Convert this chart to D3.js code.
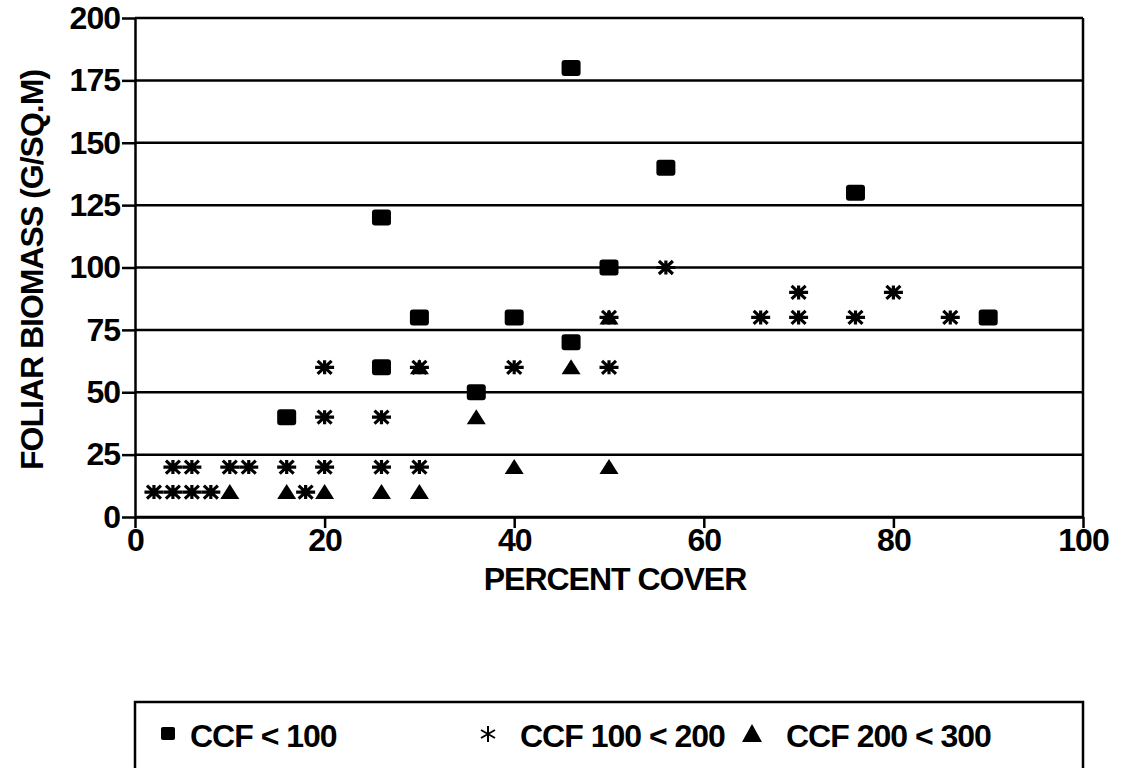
<!DOCTYPE html>
<html>
<head>
<meta charset="utf-8">
<script src="https://cdn.jsdelivr.net/npm/d3@7"></script>
<style>
  body { margin: 0; background: #fff; }
  svg { display: block; }
  text { font-family: "Liberation Sans", Arial, Helvetica, sans-serif; font-weight: bold; fill: #000; }
</style>
</head>
<body>
<div id="chart"></div>
<script>
// series names, as in the legend
var seriesNames = ["CCF < 100", "CCF 100 < 200", "CCF 200 < 300"];

// CCF < 100 (squares)
var lowCover   = [16, 26, 26, 30, 36, 40, 46, 46, 50, 56, 76, 90];
var lowBiomass = [40, 120, 60, 80, 50, 80, 180, 70, 100, 140, 130, 80];

// CCF 100 < 200 (asterisks)
var midCover   = [2, 4, 6, 8, 18,
                  4, 6, 10, 12, 16, 20, 26, 30,
                  20, 26,
                  20, 30, 40, 50,
                  50, 66, 70, 76, 86,
                  70, 80,
                  56];
var midBiomass = [10, 10, 10, 10, 10,
                  20, 20, 20, 20, 20, 20, 20, 20,
                  40, 40,
                  60, 60, 60, 60,
                  80, 80, 80, 80, 80,
                  90, 90,
                  100];

// CCF 200 < 300 (triangles)
var highCover   = [10, 16, 20, 26, 30, 40, 50, 36, 46, 30, 50];
var highBiomass = [10, 10, 10, 10, 10, 20, 20, 40, 60, 60, 80];

var xTicks = [0, 20, 40, 60, 80, 100];
var yTicks = [0, 25, 50, 75, 100, 125, 150, 175, 200];

var xTitle = "PERCENT COVER";
var yTitle = "FOLIAR BIOMASS (G/SQ.M)";

var width = 1122, height = 768;
var plot = { left: 135, right: 1083, top: 18, bottom: 517 };
var fontSize = "32px";

var svg = d3.select("#chart")
    .append("svg")
    .attr("width", width)
    .attr("height", height);

var x = d3.scaleLinear().domain([0, 100]).range([plot.left, plot.right]);
var y = d3.scaleLinear().domain([0, 200]).range([plot.bottom, plot.top]);

// horizontal grid lines (the 200 one doubles as the top of the frame)
svg.append("g")
    .selectAll("line")
    .data(yTicks)
    .enter()
    .append("line")
    .attr("x1", plot.left)
    .attr("x2", plot.right)
    .attr("y1", function(d) { return y(d); })
    .attr("y2", function(d) { return y(d); })
    .attr("stroke", "#000")
    .attr("stroke-width", 2.5);

// right edge of frame
svg.append("line")
    .attr("x1", plot.right).attr("x2", plot.right)
    .attr("y1", plot.top).attr("y2", plot.bottom)
    .attr("stroke", "#000").attr("stroke-width", 2.5);

// y axis
var yaxis = svg.append("g")
    .attr("transform", "translate(" + plot.left + ",0)")
    .call(d3.axisLeft(y).tickValues(yTicks).tickSize(13).tickSizeOuter(0).tickPadding(2));
yaxis.selectAll("path, line").attr("stroke", "#000").attr("stroke-width", 2.5);
yaxis.selectAll("text")
    .attr("font-size", fontSize)
    .attr("font-family", null)
    .attr("letter-spacing", "-1px");

// x axis
var xaxis = svg.append("g")
    .attr("transform", "translate(0," + plot.bottom + ")")
    .call(d3.axisBottom(x).tickValues(xTicks).tickSize(11).tickSizeOuter(0).tickPadding(0));
xaxis.selectAll("path, line").attr("stroke", "#000").attr("stroke-width", 2.5);
xaxis.selectAll("text")
    .attr("font-size", fontSize)
    .attr("font-family", null)
    .attr("letter-spacing", "-1px");

// axis titles
svg.append("text")
    .attr("x", (plot.left + plot.right) / 2 + 6)
    .attr("y", 590)
    .attr("text-anchor", "middle")
    .attr("font-size", fontSize)
    .attr("letter-spacing", "-1px")
    .text(xTitle);

svg.append("text")
    .attr("transform", "translate(43,270) rotate(-90)")
    .attr("text-anchor", "middle")
    .attr("font-size", fontSize)
    .attr("letter-spacing", "-1px")
    .text(yTitle);

// marker shapes
var squarePath = function(g) {
    g.append("rect")
        .attr("x", -9.5).attr("y", -8)
        .attr("width", 19).attr("height", 16)
        .attr("rx", 3)
        .attr("fill", "#000");
};
var starPath = function(g) {
    g.append("path")
        .attr("d", "M-9.5,0H9.5M0,-7V7M-7,-6.5L7,6.5M-7,6.5L7,-6.5")
        .attr("stroke", "#000")
        .attr("stroke-width", 3.2)
        .attr("fill", "none");
};
var trianglePath = function(g) {
    g.append("path")
        .attr("d", "M0,-8L9.5,7L-9.5,7Z")
        .attr("fill", "#000");
};

function drawSeries(cover, biomass, shape) {
    var pts = cover.map(function(c, i) { return { x: c, y: biomass[i] }; });
    svg.append("g")
        .selectAll("g")
        .data(pts)
        .enter()
        .append("g")
        .attr("transform", function(d) {
            return "translate(" + x(d.x) + "," + y(d.y) + ")";
        })
        .each(function() { shape(d3.select(this)); });
}

drawSeries(highCover, highBiomass, trianglePath);
drawSeries(lowCover, lowBiomass, squarePath);
drawSeries(midCover, midBiomass, starPath);

// legend box (runs off the bottom of the page)
svg.append("path")
    .attr("d", "M" + plot.left + "," + (height + 5) + "V702H" + plot.right + "V" + (height + 5))
    .attr("fill", "none")
    .attr("stroke", "#000")
    .attr("stroke-width", 2.5);

var legendX = [168, 488, 752];
var legendTextX = [190, 520, 786];
var legendShapes = [
    function(g) { g.append("rect").attr("x", -7).attr("y", -7).attr("width", 14).attr("height", 13).attr("rx", 2).attr("fill", "#000"); },
    function(g) { g.append("path").attr("d", "M0,-8V8M-7,-4L7,4M-7,4L7,-4").attr("stroke", "#000").attr("stroke-width", 2).attr("fill", "none"); },
    function(g) { g.append("path").attr("d", "M0,-10L10,8L-10,8Z").attr("fill", "#000"); }
];

var legend = svg.append("g")
    .selectAll("g")
    .data(seriesNames)
    .enter()
    .append("g");

legend.append("g")
    .attr("transform", function(d, i) { return "translate(" + legendX[i] + ",734)"; })
    .each(function(d, i) { legendShapes[i](d3.select(this)); });

legend.append("text")
    .attr("x", function(d, i) { return legendTextX[i]; })
    .attr("y", 747)
    .attr("font-size", fontSize)
    .attr("letter-spacing", "-1px")
    .text(function(d) { return d; });
</script>
</body>
</html>
